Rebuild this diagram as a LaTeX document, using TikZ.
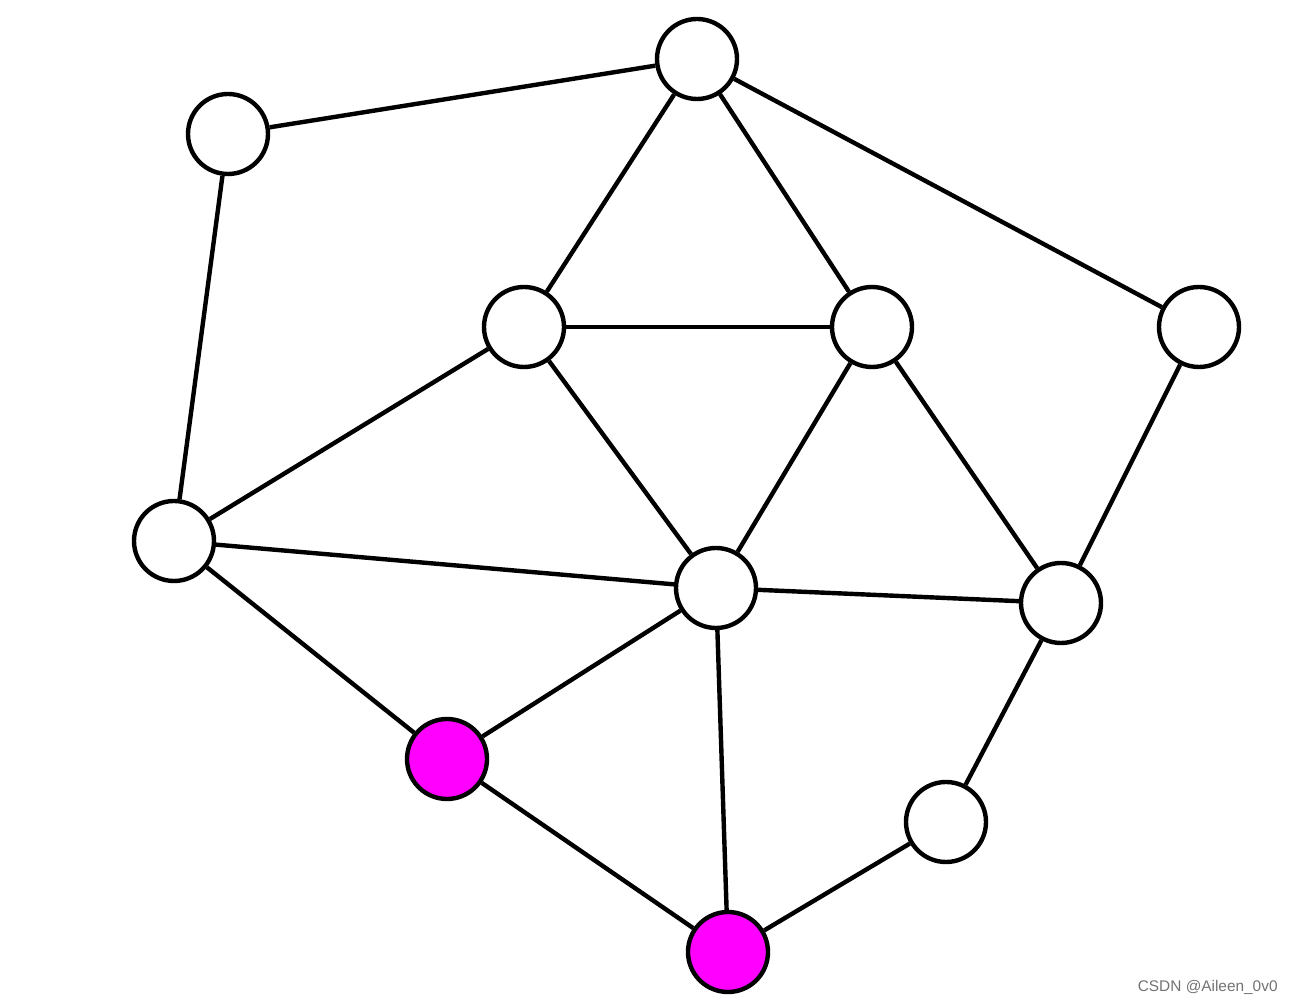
\documentclass[tikz,border=0pt]{standalone}
\usepackage{fontspec}
\setmainfont{Liberation Sans}
\definecolor{hitcol}{RGB}{255,0,255}
\begin{document}
\begin{tikzpicture}[x=0.5pt,y=-0.5pt,
  vtx/.style={circle,draw=black,line width=2.2pt,fill=white,minimum size=40pt,inner sep=0pt},
  hit/.style={vtx,fill=hitcol},
  edge/.style={line width=2.2pt,black}]
\useasboundingbox[fill=white] (0,0) rectangle (1292,1004);
\node[vtx] (A) at (697,59) {};
\node[vtx] (B) at (228,134) {};
\node[vtx] (C) at (524,327) {};
\node[vtx] (D) at (872,327) {};
\node[vtx] (E) at (1199,327) {};
\node[vtx] (F) at (174,541) {};
\node[vtx] (G) at (716,588) {};
\node[vtx] (H) at (1061,603) {};
\node[hit] (I) at (447,759) {};
\node[vtx] (J) at (946,822) {};
\node[hit] (K) at (728,952) {};
\foreach \a/\b in {A/B,A/C,A/D,A/E,B/F,C/D,C/F,C/G,D/G,D/H,E/H,F/G,F/I,G/H,G/I,G/K,H/J,I/K,J/K}
  \draw[edge] (\a) -- (\b);
\node[text=black!55,font=\fontsize{7.7pt}{9pt}\selectfont,anchor=east,inner sep=0pt] (wm) at (1278,987) {CSDN @Aileen\_0v0};
\end{tikzpicture}
\end{document}
